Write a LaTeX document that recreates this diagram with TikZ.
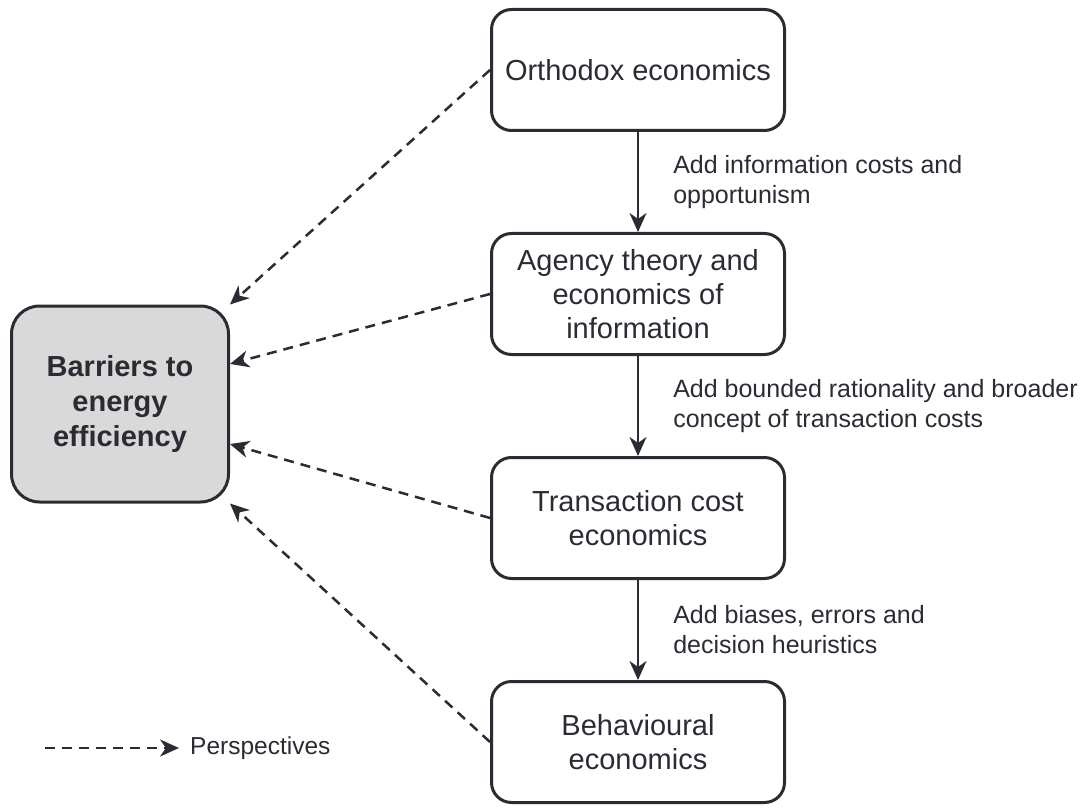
\documentclass[tikz,border=0pt]{standalone}
\usepackage{fontspec}
\setmainfont{Liberation Sans}
\usetikzlibrary{arrows.meta,positioning}
\definecolor{ink}{HTML}{2B2B33}
\definecolor{shade}{HTML}{D9D9D9}

\begin{document}
\begin{tikzpicture}[x=1pt, y=-1pt,
  node distance=100pt,
  box/.style={draw=ink, line width=3pt, rounded corners=20pt, align=center, text=ink,
              font=\fontsize{29}{34}\selectfont, minimum width=293pt, minimum height=121pt},
  lbl/.style={align=left, text=ink, inner sep=0pt, font=\fontsize{25}{30}\selectfont},
  arr/.style={draw=ink, line width=2.5pt, -{Stealth[length=19pt,width=17pt,inset=6pt]}},
  persp/.style={arr, dash pattern=on 10pt off 7pt}]
\useasboundingbox (0,0) rectangle (1089,810);
\node[box, fill=shade, minimum width=217pt, minimum height=196pt, rounded corners=28pt,
      font=\fontsize{29}{35}\selectfont\bfseries] (barr) at (120,404) {Barriers to\\energy\\efficiency};
\node[box] (orth) at (638,70) {Orthodox economics};
\node[box, below=of orth] (agency) {Agency theory and\\economics of\\information};
\node[box, below=of agency] (trans) {Transaction cost\\economics};
\node[box, below=of trans] (behav) {Behavioural\\economics};
% each perspective extends the one above it
\foreach \a/\b/\t in {orth/agency/{Add information costs and\\opportunism},
                      agency/trans/{Add bounded rationality and broader\\concept of transaction costs},
                      trans/behav/{Add biases, errors and\\decision heuristics}}
  \draw[arr] (\a) -- node[lbl, midway, right=34pt] {\t} (\b);
\foreach \a/\b in {orth/north east, agency/20, trans/-20, behav/south east}
  \draw[persp] (\a.west) -- (barr.\b);
% legend
\coordinate (legstart) at (45,748);
\node[anchor=west, inner sep=0pt, text=ink, font=\fontsize{24.5}{28}\selectfont] (legend) at (190,748) {Perspectives};
\draw[persp, shorten >=11pt] (legstart) -- (legend.west);
\end{tikzpicture}
\end{document}
